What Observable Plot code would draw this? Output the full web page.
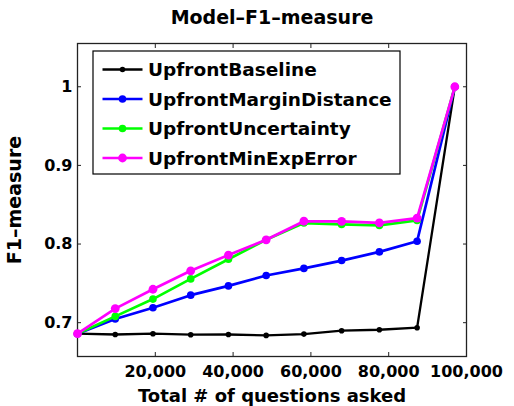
<!DOCTYPE html>
<html><head><meta charset="utf-8">
<script src="https://cdn.jsdelivr.net/npm/d3@7"></script>
<script src="https://cdn.jsdelivr.net/npm/@observablehq/plot@0.6"></script>
<style>
body{margin:0;background:#fff}
#chart svg{font-family:"DejaVu Sans",sans-serif;font-weight:bold;overflow:visible}
</style>
</head><body><div id="chart"></div><script>
// ---- data ----
const questions = [0, 9700, 19400, 29100, 38800, 48500, 58200, 67900, 77600, 87300, 97000];
const upfrontBaseline       = [0.686, 0.685, 0.686, 0.6847, 0.685, 0.6838, 0.6855, 0.6898, 0.691, 0.6936, 1.0];
const upfrontMarginDistance = [0.686, 0.7047, 0.719, 0.735, 0.7468, 0.760, 0.769, 0.779, 0.790, 0.8035, 1.0];
const upfrontUncertainty    = [0.686, 0.708, 0.730, 0.7557, 0.7807, 0.8054, 0.8267, 0.825, 0.8237, 0.830, 1.0];
const upfrontMinExpError    = [0.686, 0.7179, 0.7425, 0.766, 0.786, 0.8054, 0.829, 0.8287, 0.827, 0.833, 1.0];
const seriesNames = ["UpfrontBaseline", "UpfrontMarginDistance", "UpfrontUncertainty", "UpfrontMinExpError"];
const seriesValues = [upfrontBaseline, upfrontMarginDistance, upfrontUncertainty, upfrontMinExpError];
const seriesColors = ["#000000", "#0000ff", "#00ff00", "#ff00ff"];
const xTicks = [20000, 40000, 60000, 80000, 100000];
const yTicks = [0.7, 0.8, 0.9, 1];
const titleText = "Model\u2013F1\u2013measure";
const xLabel = "Total # of questions asked";
const yLabel = "F1\u2013measure";

// ---- styles ----
const lineWidths = [2.3, 2.7, 2.7, 2.7];
const dotRadii = [2.8, 3.8, 3.8, 4.4];

const rows = seriesNames.flatMap((s, i) => questions.map((q, j) => ({series: s, x: q, y: seriesValues[i][j]})));

const W = 514, H = 406, mL = 77, mR = 48, mT = 43, mB = 50;

const marks = [
  Plot.axisX(xTicks, {anchor: "bottom", tickSize: -4, fill: "none", label: null, stroke: "#222"}),
  Plot.axisX(xTicks, {anchor: "top", tickSize: -4, fill: "none", label: null, stroke: "#222"}),
  Plot.axisY(yTicks, {anchor: "left", tickSize: -4, fill: "none", label: null, stroke: "#222"}),
  Plot.axisY(yTicks, {anchor: "right", tickSize: -4, fill: "none", label: null, stroke: "#222"}),
  Plot.axisX(xTicks, {anchor: "bottom", tickSize: 0, tickPadding: 9, tickFormat: d3.format(","), label: null, fontSize: 16, fill: "#000"}),
  Plot.axisY(yTicks, {anchor: "left", tickSize: 0, tickPadding: 5, tickFormat: d => d === 1 ? "1" : d3.format(".1f")(d), label: null, fontSize: 16, fill: "#000"}),
  Plot.frame({stroke: "#222", strokeWidth: 1.3}),
];
seriesNames.forEach((s, i) => {
  const d = rows.filter(r => r.series === s);
  marks.push(Plot.line(d, {x: "x", y: "y", stroke: "series", strokeWidth: lineWidths[i]}));
  marks.push(Plot.dot(d, {x: "x", y: "y", fill: "series", r: dotRadii[i], stroke: "none"}));
});
const labelOpts = {text: d => d, textAnchor: "middle", lineAnchor: "middle", fill: "#000"};
marks.push(Plot.text([titleText], {...labelOpts, frameAnchor: "top", dy: -26, fontSize: 19}));
marks.push(Plot.text([xLabel], {...labelOpts, frameAnchor: "bottom", dy: 40, fontSize: 18}));
marks.push(Plot.text([yLabel], {...labelOpts, frameAnchor: "left", dx: -63, rotate: -90, fontSize: 19}));

const chart = Plot.plot({
  width: W, height: H,
  marginLeft: mL, marginRight: mR, marginTop: mT, marginBottom: mB,
  x: {domain: [0, 100000]},
  y: {domain: [0.657, 1.055]},
  color: {domain: seriesNames, range: seriesColors},
  style: {background: "#fff", color: "#000"},
  marks
});
document.getElementById("chart").appendChild(chart);

// ---- legend box (drawn into the same svg) ----
const svg = d3.select(chart);
const lg = svg.append("g").attr("transform", `translate(${mL + 16},${mT + 8})`).attr("text-anchor", "start");
lg.append("rect").attr("x", 0).attr("y", 0).attr("width", 307).attr("height", 123)
  .attr("fill", "#fff").attr("stroke", "#000").attr("stroke-width", 1.2);
seriesNames.forEach((s, i) => {
  const cy = 18.5 + i * 29.5;
  lg.append("line").attr("x1", 9.5).attr("x2", 49.5).attr("y1", cy).attr("y2", cy)
    .attr("stroke", seriesColors[i]).attr("stroke-width", lineWidths[i]);
  lg.append("circle").attr("cx", 29.5).attr("cy", cy).attr("r", dotRadii[i]).attr("fill", seriesColors[i]);
  lg.append("text").attr("x", 55).attr("y", cy).attr("dy", "0.36em").attr("text-anchor", "start")
    .attr("font-size", 18.5).attr("font-weight", "bold").attr("fill", "#000").text(s);
});
</script></body></html>
